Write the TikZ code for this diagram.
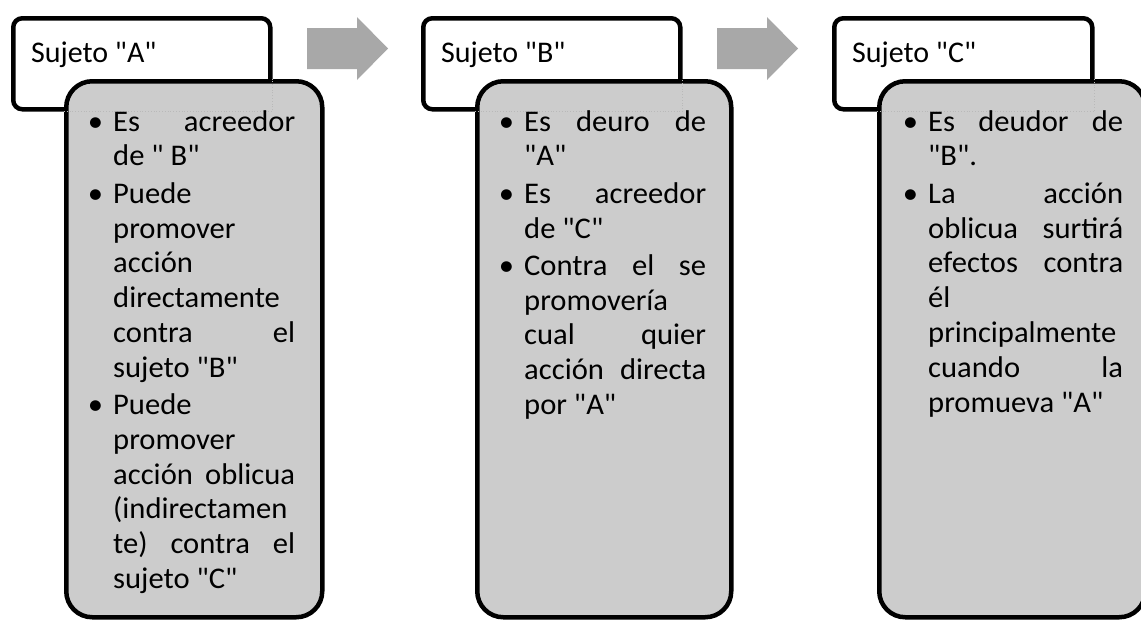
\documentclass[tikz,border=0pt]{standalone}
\usepackage{fontspec}
\newfontfamily\titlefont{Carlito}
\newfontfamily\bodyfont{Carlito}[FakeStretch=1.02]
\definecolor{boxgray}{RGB}{204,204,204}
\definecolor{arrowgray}{RGB}{168,168,168}
\newcommand\B{\strut\llap{\textbullet\hspace{10pt}}}
\newcommand\J[1]{\makebox[\linewidth][s]{#1}}
\newcommand\bodypar[2]{\parbox[t]{#1}{\setlength\parindent{0pt}\raggedright #2}}
\tikzset{
  titlebox/.style={draw=black, line width=4.5pt, rounded corners=9pt, fill=white,
    inner sep=0pt, anchor=north west, minimum height=91pt},
  detailbox/.style={draw=black, line width=4.5pt, rounded corners=26pt, fill=boxgray,
    inner sep=0pt, anchor=north west, minimum height=536pt},
  titletext/.style={anchor=base west, inner sep=0pt,
    font=\titlefont\fontsize{30pt}{34.8pt}\selectfont},
  bodytext/.style={anchor=north west, inner sep=0pt,
    font=\bodyfont\fontsize{30pt}{34.8pt}\selectfont},
  overlap/.style={draw=gray!55, dotted, line width=0.8pt},
  blockarrow/.style={fill=arrowgray},
}
\begin{document}
\begin{tikzpicture}[x=1pt,y=-1pt]
\useasboundingbox (0,0) rectangle (1141,619);
% column A
\node[titlebox, minimum width=257pt] (ttlA) at (11,16) {};
\node[detailbox, minimum width=256pt] (dA) at (64,79) {};
\draw[overlap] (dA.west |- ttlA.south) -- (ttlA.south east) -- (ttlA.east |- dA.north);
\node[titletext] (lA) at (31,62) {Sujeto "A"};
\node[bodytext] (tA) at (113,106.6) {\bodypar{182pt}{%
\B\J{Es acreedor}\\
de " B"\\[2.5pt]
\B Puede\\
promover\\
acción\\
directamente\\
\J{contra el}\\
sujeto "B"\\[2.5pt]
\B Puede\\
promover\\
\J{acción oblicua}\\
(indirectamen\\
\J{te) contra el}\\
sujeto "C"}};
% arrow A -> B
\coordinate (a1) at (307,48.5);
\fill[blockarrow] (a1) ++(0,-20.5) -- ++(50,0) -- ++(0,-11) -- ++(31,31.5) -- ++(-31,31.5) -- ++(0,-11) -- ++(-50,0) -- cycle;
% column B
\node[titlebox, minimum width=257pt] (ttlB) at (421,16) {};
\node[detailbox, minimum width=254pt] (dB) at (475,79) {};
\draw[overlap] (dB.west |- ttlB.south) -- (ttlB.south east) -- (ttlB.east |- dB.north);
\node[titletext] (lB) at (441,62) {Sujeto "B"};
\node[bodytext] (tB) at (524,106.6) {\bodypar{182pt}{%
\B\J{Es deuro de}\\
"A"\\[2.5pt]
\B\J{Es acreedor}\\
de "C"\\[2.5pt]
\B\J{Contra el se}\\
promovería\\
\J{cual quier}\\
\J{acción directa}\\
por "A"}};
% arrow B -> C
\coordinate (a2) at (717,48.5);
\fill[blockarrow] (a2) ++(0,-20.5) -- ++(50,0) -- ++(0,-11) -- ++(31,31.5) -- ++(-31,31.5) -- ++(0,-11) -- ++(-50,0) -- cycle;
% column C
\node[titlebox, minimum width=258pt] (ttlC) at (832,16) {};
\node[detailbox, minimum width=266pt] (dC) at (877,79) {};
\draw[overlap] (dC.west |- ttlC.south) -- (ttlC.south east) -- (ttlC.east |- dC.north);
\node[titletext] (lC) at (852,62) {Sujeto "C"};
\node[bodytext] (tC) at (928,106.6) {\bodypar{195pt}{%
\B\J{Es deudor de}\\
"B".\\[2.5pt]
\B\J{La acción}\\
\J{oblicua surtirá}\\
\J{efectos contra}\\
él\\
principalmente\\
\J{cuando la}\\
promueva "A"}};
\end{tikzpicture}
\end{document}
